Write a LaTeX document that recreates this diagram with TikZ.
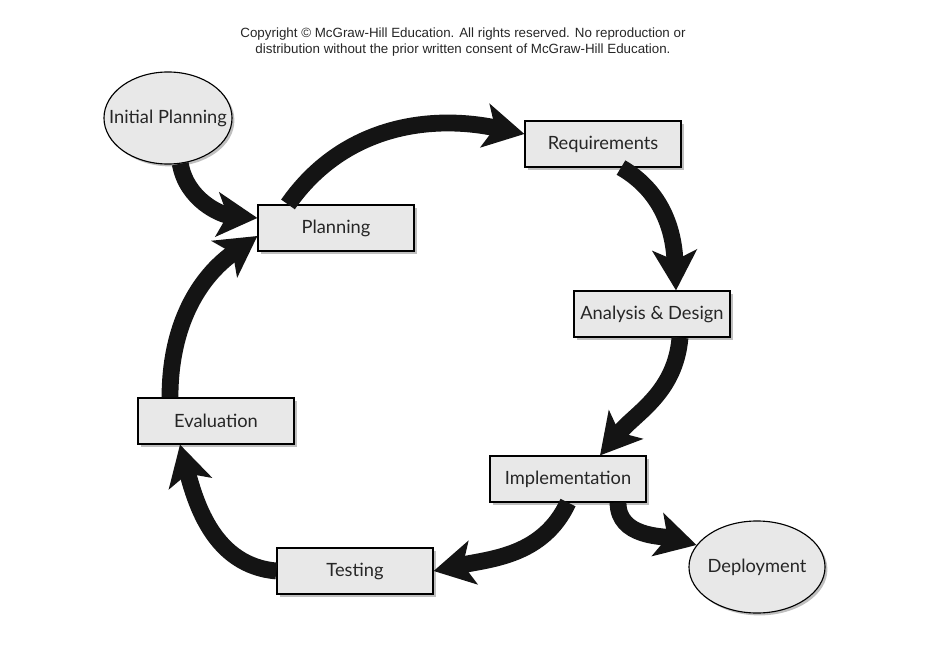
\documentclass[tikz,border=0pt]{standalone}
\usepackage{fontspec}
\setmainfont{Lato}
\newfontfamily\noticefont{Liberation Sans}
\usetikzlibrary{arrows.meta, shapes.geometric, shadows}

\begin{document}
\begin{tikzpicture}[x=0.025cm, y=-0.025cm]
    % --- Style Definitions ---
    \tikzset{
        % Phase boxes of the cycle
        phase box/.style={
            draw=black,
            thick,
            fill=black!9,
            minimum width=3.9cm,
            minimum height=1.15cm,
            font=\fontsize{13}{15}\selectfont,
            text=black!85,
            drop shadow={shadow xshift=0.07cm, shadow yshift=-0.07cm, fill=black!50}
        },
        % Entry and exit points
        end ellipse/.style={
            ellipse,
            draw=black,
            thick,
            fill=black!9,
            minimum width=3.2cm,
            minimum height=2.3cm,
            inner xsep=-0.4cm,
            inner ysep=0pt,
            font=\fontsize{13}{15}\selectfont,
            text=black!85,
            drop shadow={shadow xshift=0.06cm, shadow yshift=-0.06cm, fill=black!50}
        },
        % Copyright notice
        notice text/.style={
            font=\noticefont\fontsize{9.5}{12}\selectfont,
            align=center,
            text=black!85
        },
        % Heavy curved arrows
        flow arrow/.style={
            -{Stealth[length=1cm, width=1.1cm, inset=0.25cm]},
            line width=0.42cm,
            black!92
        }
    }

    \useasboundingbox (0,0) rectangle (952,644);

    % --- 1. Notice ---
    \node[notice text] (notice) at (463,42) {Copyright \textcopyright{} McGraw-Hill Education. All rights reserved. No reproduction or\\distribution without the prior written consent of McGraw-Hill Education.};

    % --- 2. Phases ---
    \node[phase box] (plan) at (336,228) {Planning};
    \node[phase box] (req) at (603,144) {Requirements};
    \node[phase box] (design) at (652,314) {Analysis \& Design};
    \node[phase box] (impl) at (568,479) {Implementation};
    \node[phase box] (test) at (355,571) {Testing};
    \node[phase box] (eval) at (216,421) {Evaluation};

    % --- 3. Start and end ---
    \node[end ellipse] (init) at (168,118) {Initial Planning};
    \node[end ellipse, minimum width=3.4cm] (deploy) at (757,567) {Deployment};

    % --- 4. Cycle arrows ---
    \draw[flow arrow] ([xshift=-1.2cm]plan.north) to[out=55, in=168] ([yshift=0.25cm]req.west);
    \draw[flow arrow] ([xshift=0.45cm]req.south) to[out=-30, in=92] ([xshift=0.6cm]design.north);
    \draw[flow arrow] ([xshift=0.7cm]design.south) to[out=-95, in=50] ([xshift=0.8cm]impl.north);
    \draw[flow arrow] (impl.south) to[out=-115, in=12] (test.east);
    \draw[flow arrow] (test.west) to[out=175, in=-75] ([xshift=-0.9cm]eval.south);
    \draw[flow arrow] ([xshift=-1.15cm]eval.north) to[out=90, in=215] ([yshift=-0.2cm]plan.west);

    % --- 5. Entry and exit arrows ---
    \draw[flow arrow] (init.-75) to[out=-80, in=175] ([yshift=0.25cm]plan.west);
    \draw[flow arrow] ([xshift=1.25cm]impl.south) to[out=-90, in=165] (deploy.160);

\end{tikzpicture}
\end{document}
